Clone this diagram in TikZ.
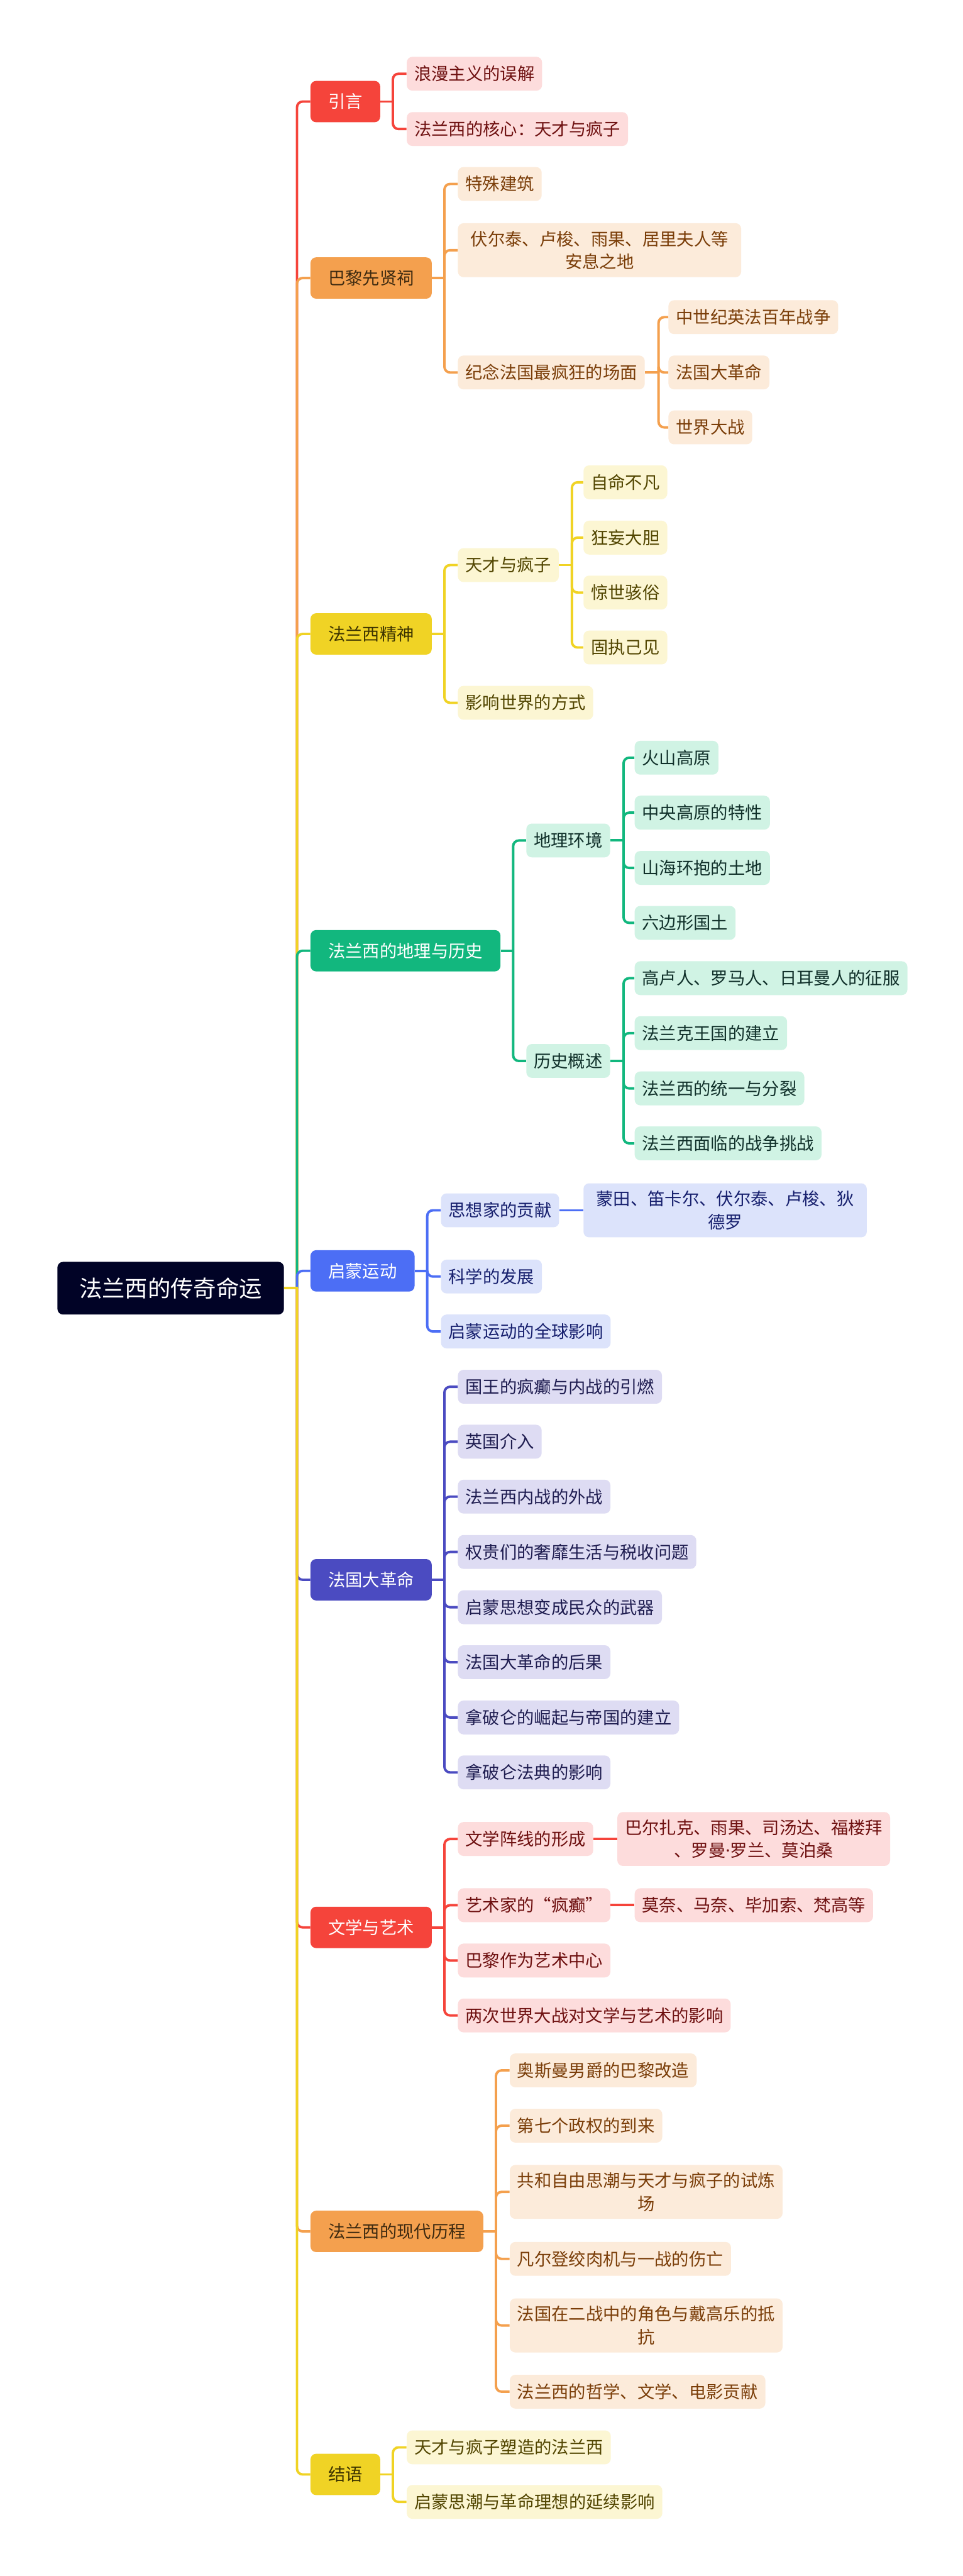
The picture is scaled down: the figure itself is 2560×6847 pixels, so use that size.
\documentclass[tikz,border=0pt]{standalone}
\usepackage{fontspec}
\setmainfont{Noto Sans CJK SC}
\newfontfamily\latinfont{Noto Sans}

\definecolor{rootbg}{HTML}{010326}
\definecolor{redA}{HTML}{F5443B}
\definecolor{redB}{HTML}{FDDCDC}
\definecolor{redT}{HTML}{6E1010}
\definecolor{orgA}{HTML}{F4A04E}
\definecolor{orgB}{HTML}{FCEBDA}
\definecolor{orgT}{HTML}{7A3D08}
\definecolor{orgD}{HTML}{3E2A10}
\definecolor{yelA}{HTML}{F0D325}
\definecolor{yelB}{HTML}{FCF6D3}
\definecolor{yelT}{HTML}{514500}
\definecolor{yelD}{HTML}{3C3300}
\definecolor{grnA}{HTML}{12B77E}
\definecolor{grnB}{HTML}{D0F3E4}
\definecolor{grnT}{HTML}{10302A}
\definecolor{bluA}{HTML}{4C6EF5}
\definecolor{bluB}{HTML}{DCE3FB}
\definecolor{bluT}{HTML}{17206E}
\definecolor{indA}{HTML}{4B4BC1}
\definecolor{indB}{HTML}{DEDCF3}
\definecolor{indT}{HTML}{1E1C50}

\begin{document}
\begin{tikzpicture}[
    x=0.1mm, y=-0.1mm,
    every node/.style={rounded corners=1.5mm, anchor=west, align=center,
        font=\fontsize{13pt}{17.4pt}\selectfont,
        inner xsep=2mm, inner ysep=2mm, minimum height=9mm},
    root/.style={fill=rootbg, text=white, font=\fontsize{17.3pt}{22pt}\selectfont,
        inner xsep=5.8mm, minimum height=14mm},
    topic/.style 2 args={fill=#1, text=#2, inner xsep=4.7mm, minimum height=11mm},
    leaf/.style 2 args={fill=#1, text=#2},
    link/.style={draw=#1, line width=0.65mm, rounded corners=1.5mm}
]
    \fill[white] (0,0) rectangle (2560,6847);
    \useasboundingbox (0,0) rectangle (2560,6847);

    % Raíz y temas principales
    \node[root] (fr) at (152,3424) {法兰西的传奇命运};
    \node[topic={redA}{white}] (t1) at (825,270) {引言};
    \node[topic={orgA}{orgD}] (t2) at (825,739) {巴黎先贤祠};
    \node[topic={yelA}{yelD}] (t3) at (825,1685) {法兰西精神};
    \node[topic={grnA}{white}] (t4) at (825,2527) {法兰西的地理与历史};
    \node[topic={bluA}{white}] (t5) at (825,3378) {启蒙运动};
    \node[topic={indA}{white}] (t6) at (825,4199) {法国大革命};
    \node[topic={redA}{white}] (t7) at (825,5123) {文学与艺术};
    \node[topic={orgA}{orgD}] (t8) at (825,5931) {法兰西的现代历程};
    \node[topic={yelA}{yelD}] (t9) at (825,6577) {结语};

    % Puntos de unión de cada rama
    \coordinate (j0) at ([xshift=3.4mm]fr.east);
    \coordinate (j1) at ([xshift=3.3mm]t1.east);
    \coordinate (j2) at ([xshift=3.3mm]t2.east);
    \coordinate (j3) at ([xshift=3.3mm]t3.east);
    \coordinate (j4) at ([xshift=3.3mm]t4.east);
    \coordinate (j5) at ([xshift=3.3mm]t5.east);
    \coordinate (j6) at ([xshift=3.3mm]t6.east);
    \coordinate (j7) at ([xshift=3.3mm]t7.east);
    \coordinate (j8) at ([xshift=3.3mm]t8.east);
    \coordinate (j9) at ([xshift=3.3mm]t9.east);

    % Tronco: de la raíz a cada tema
    \draw[link=redA] (j0) |- (t1.west);
    \draw[link=orgA] (j0) |- (t2.west);
    \draw[link=yelA] (j0) |- (t3.west);
    \draw[link=grnA] (j0) |- (t4.west);
    \draw[link=bluA] (j0) |- (t5.west);
    \draw[link=indA] (j0) |- (t6.west);
    \draw[link=redA] (j0) |- (t7.west);
    \draw[link=orgA] (j0) |- (t8.west);
    \draw[link=yelA] (j0) |- (t9.west);
    \draw[link=yelA] (fr.east) -- ([xshift=0.3mm]j0);

    % 引言
    \node[leaf={redB}{redT}] (a1) at (1081,196) {浪漫主义的误解};
    \node[leaf={redB}{redT}] (a2) at (1081,343) {法兰西的核心：天才与疯子};
    \draw[link=redA] (t1.east) -- ([xshift=0.3mm]j1);
    \draw[link=redA] (j1) |- (a1.west);
    \draw[link=redA] (j1) |- (a2.west);

    % 巴黎先贤祠
    \node[leaf={orgB}{orgT}] (b1) at (1217,489) {特殊建筑};
    \node[leaf={orgB}{orgT}, inner xsep=3.4mm] (b2) at (1217,665) {伏尔泰、卢梭、雨果、居里夫人等\\安息之地};
    \node[leaf={orgB}{orgT}] (b3) at (1217,990) {纪念法国最疯狂的场面};
    \node[leaf={orgB}{orgT}] (b31) at (1777,843) {中世纪英法百年战争};
    \node[leaf={orgB}{orgT}] (b32) at (1777,990) {法国大革命};
    \node[leaf={orgB}{orgT}] (b33) at (1777,1136) {世界大战};
    \coordinate (jb3) at ([xshift=3.6mm]b3.east);
    \draw[link=orgA] (t2.east) -- ([xshift=0.3mm]j2);
    \draw[link=orgA] (j2) |- (b1.west);
    \draw[link=orgA] (j2) |- (b2.west);
    \draw[link=orgA] (j2) |- (b3.west);
    \draw[link=orgA] (b3.east) -- ([xshift=0.3mm]jb3);
    \draw[link=orgA] (jb3) |- (b31.west);
    \draw[link=orgA] (jb3) |- (b32.west);
    \draw[link=orgA] (jb3) |- (b33.west);

    % 法兰西精神
    \node[leaf={yelB}{yelT}] (c1) at (1217,1502) {天才与疯子};
    \node[leaf={yelB}{yelT}] (c11) at (1551,1282) {自命不凡};
    \node[leaf={yelB}{yelT}] (c12) at (1551,1429) {狂妄大胆};
    \node[leaf={yelB}{yelT}] (c13) at (1551,1575) {惊世骇俗};
    \node[leaf={yelB}{yelT}] (c14) at (1551,1721) {固执己见};
    \node[leaf={yelB}{yelT}] (c2) at (1217,1868) {影响世界的方式};
    \coordinate (jc1) at ([xshift=3.4mm]c1.east);
    \draw[link=yelA] (t3.east) -- ([xshift=0.3mm]j3);
    \draw[link=yelA] (j3) |- (c1.west);
    \draw[link=yelA] (j3) |- (c2.west);
    \draw[link=yelA] (c1.east) -- ([xshift=0.3mm]jc1);
    \draw[link=yelA] (jc1) |- (c11.west);
    \draw[link=yelA] (jc1) |- (c12.west);
    \draw[link=yelA] (jc1) |- (c13.west);
    \draw[link=yelA] (jc1) |- (c14.west);

    % 法兰西的地理与历史
    \node[leaf={grnB}{grnT}] (d1) at (1399,2234) {地理环境};
    \node[leaf={grnB}{grnT}] (d11) at (1687,2014) {火山高原};
    \node[leaf={grnB}{grnT}] (d12) at (1687,2160) {中央高原的特性};
    \node[leaf={grnB}{grnT}] (d13) at (1687,2307) {山海环抱的土地};
    \node[leaf={grnB}{grnT}] (d14) at (1687,2453) {六边形国土};
    \node[leaf={grnB}{grnT}] (d2) at (1399,2820) {历史概述};
    \node[leaf={grnB}{grnT}] (d21) at (1687,2600) {高卢人、罗马人、日耳曼人的征服};
    \node[leaf={grnB}{grnT}] (d22) at (1687,2746) {法兰克王国的建立};
    \node[leaf={grnB}{grnT}] (d23) at (1687,2893) {法兰西的统一与分裂};
    \node[leaf={grnB}{grnT}] (d24) at (1687,3039) {法兰西面临的战争挑战};
    \coordinate (jd1) at ([xshift=3.5mm]d1.east);
    \coordinate (jd2) at ([xshift=3.5mm]d2.east);
    \draw[link=grnA] (t4.east) -- ([xshift=0.3mm]j4);
    \draw[link=grnA] (j4) |- (d1.west);
    \draw[link=grnA] (j4) |- (d2.west);
    \draw[link=grnA] (d1.east) -- ([xshift=0.3mm]jd1);
    \draw[link=grnA] (jd1) |- (d11.west);
    \draw[link=grnA] (jd1) |- (d12.west);
    \draw[link=grnA] (jd1) |- (d13.west);
    \draw[link=grnA] (jd1) |- (d14.west);
    \draw[link=grnA] (d2.east) -- ([xshift=0.3mm]jd2);
    \draw[link=grnA] (jd2) |- (d21.west);
    \draw[link=grnA] (jd2) |- (d22.west);
    \draw[link=grnA] (jd2) |- (d23.west);
    \draw[link=grnA] (jd2) |- (d24.west);

    % 启蒙运动
    \node[leaf={bluB}{bluT}] (e1) at (1172,3217) {思想家的贡献};
    \node[leaf={bluB}{bluT}, inner xsep=3.4mm] (e11) at (1551,3217) {蒙田、笛卡尔、伏尔泰、卢梭、狄\\德罗};
    \node[leaf={bluB}{bluT}] (e2) at (1172,3393) {科学的发展};
    \node[leaf={bluB}{bluT}] (e3) at (1172,3539) {启蒙运动的全球影响};
    \draw[link=bluA] (t5.east) -- ([xshift=0.3mm]j5);
    \draw[link=bluA] (j5) |- (e1.west);
    \draw[link=bluA] (j5) |- (e2.west);
    \draw[link=bluA] (j5) |- (e3.west);
    \draw[link=bluA] (e1.east) -- (e11.west);

    % 法国大革命
    \node[leaf={indB}{indT}] (f1) at (1217,3686) {国王的疯癫与内战的引燃};
    \node[leaf={indB}{indT}] (f2) at (1217,3832) {英国介入};
    \node[leaf={indB}{indT}] (f3) at (1217,3978) {法兰西内战的外战};
    \node[leaf={indB}{indT}] (f4) at (1217,4125) {权贵们的奢靡生活与税收问题};
    \node[leaf={indB}{indT}] (f5) at (1217,4272) {启蒙思想变成民众的武器};
    \node[leaf={indB}{indT}] (f6) at (1217,4418) {法国大革命的后果};
    \node[leaf={indB}{indT}] (f7) at (1217,4565) {拿破仑的崛起与帝国的建立};
    \node[leaf={indB}{indT}] (f8) at (1217,4711) {拿破仑法典的影响};
    \draw[link=indA] (t6.east) -- ([xshift=0.3mm]j6);
    \draw[link=indA] (j6) |- (f1.west);
    \draw[link=indA] (j6) |- (f2.west);
    \draw[link=indA] (j6) |- (f3.west);
    \draw[link=indA] (j6) |- (f4.west);
    \draw[link=indA] (j6) |- (f5.west);
    \draw[link=indA] (j6) |- (f6.west);
    \draw[link=indA] (j6) |- (f7.west);
    \draw[link=indA] (j6) |- (f8.west);

    % 文学与艺术
    \node[leaf={redB}{redT}] (g1) at (1217,4888) {文学阵线的形成};
    \node[leaf={redB}{redT}] (g11) at (1641,4888) {巴尔扎克、雨果、司汤达、福楼拜\\、罗曼{\latinfont ·}罗兰、莫泊桑};
    \node[leaf={redB}{redT}] (g2) at (1217,5064) {艺术家的“疯癫”};
    \node[leaf={redB}{redT}] (g21) at (1687,5064) {莫奈、马奈、毕加索、梵高等};
    \node[leaf={redB}{redT}] (g3) at (1217,5211) {巴黎作为艺术中心};
    \node[leaf={redB}{redT}] (g4) at (1217,5357) {两次世界大战对文学与艺术的影响};
    \draw[link=redA] (t7.east) -- ([xshift=0.3mm]j7);
    \draw[link=redA] (j7) |- (g1.west);
    \draw[link=redA] (j7) |- (g2.west);
    \draw[link=redA] (j7) |- (g3.west);
    \draw[link=redA] (j7) |- (g4.west);
    \draw[link=redA] (g1.east) -- (g11.west);
    \draw[link=redA] (g2.east) -- (g21.west);

    % 法兰西的现代历程
    \node[leaf={orgB}{orgT}] (h1) at (1355,5503) {奥斯曼男爵的巴黎改造};
    \node[leaf={orgB}{orgT}] (h2) at (1355,5650) {第七个政权的到来};
    \node[leaf={orgB}{orgT}] (h3) at (1355,5826) {共和自由思潮与天才与疯子的试炼\\场};
    \node[leaf={orgB}{orgT}] (h4) at (1355,6004) {凡尔登绞肉机与一战的伤亡};
    \node[leaf={orgB}{orgT}] (h5) at (1355,6181) {法国在二战中的角色与戴高乐的抵\\抗};
    \node[leaf={orgB}{orgT}] (h6) at (1355,6357) {法兰西的哲学、文学、电影贡献};
    \draw[link=orgA] (t8.east) -- ([xshift=0.3mm]j8);
    \draw[link=orgA] (j8) |- (h1.west);
    \draw[link=orgA] (j8) |- (h2.west);
    \draw[link=orgA] (j8) |- (h3.west);
    \draw[link=orgA] (j8) |- (h4.west);
    \draw[link=orgA] (j8) |- (h5.west);
    \draw[link=orgA] (j8) |- (h6.west);

    % 结语
    \node[leaf={yelB}{yelT}] (i1) at (1081,6505) {天才与疯子塑造的法兰西};
    \node[leaf={yelB}{yelT}] (i2) at (1081,6650) {启蒙思潮与革命理想的延续影响};
    \draw[link=yelA] (t9.east) -- ([xshift=0.3mm]j9);
    \draw[link=yelA] (j9) |- (i1.west);
    \draw[link=yelA] (j9) |- (i2.west);
\end{tikzpicture}
\end{document}
